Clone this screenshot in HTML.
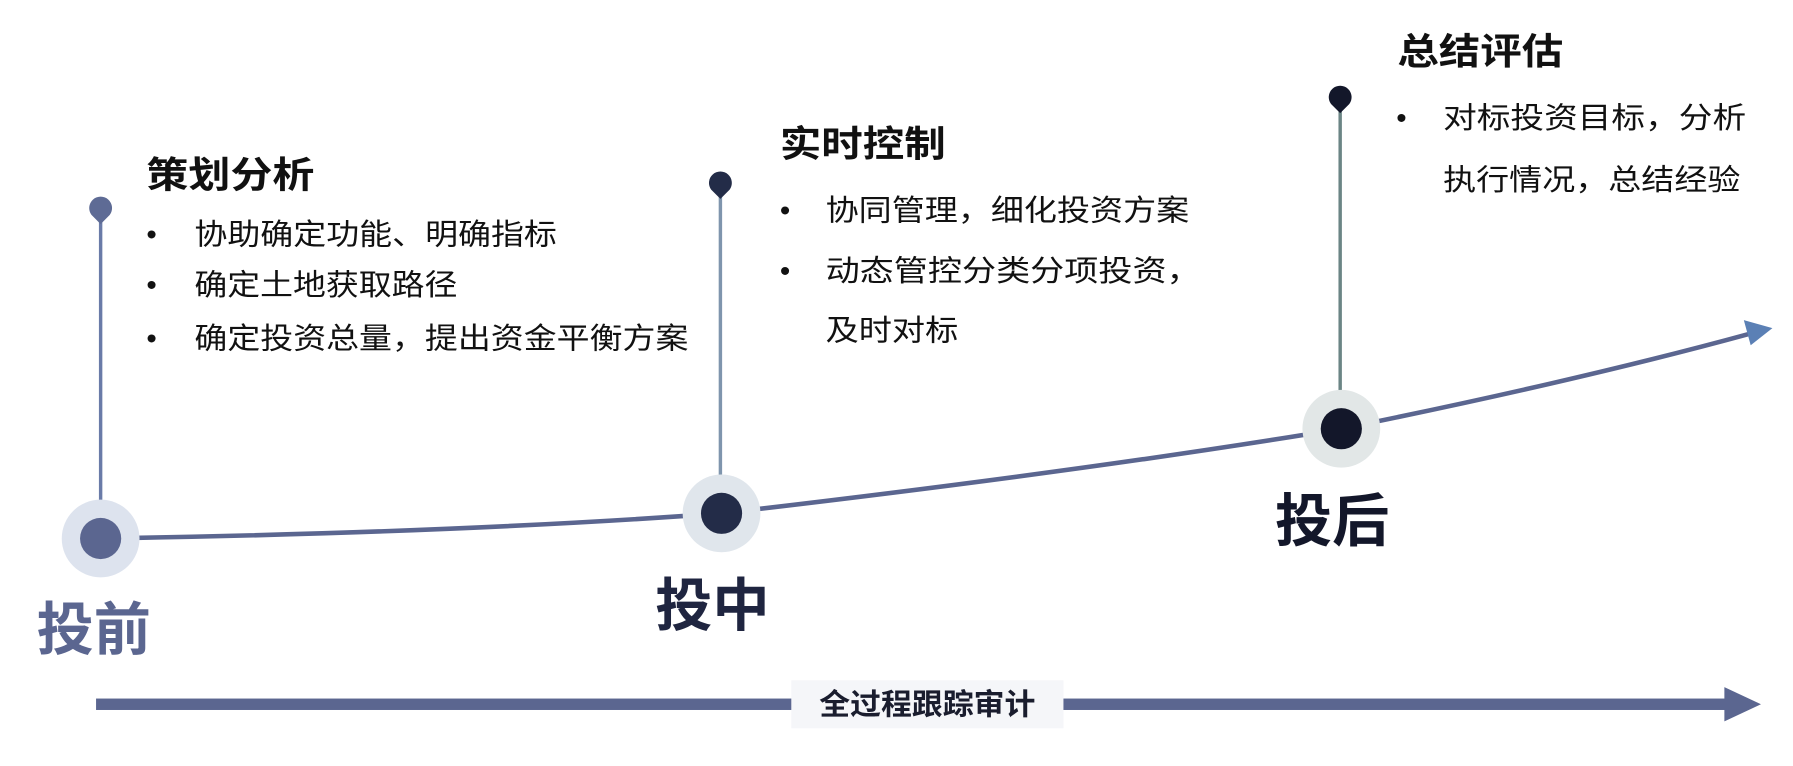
<!DOCTYPE html>
<html><head><meta charset="utf-8"><style>
html,body{margin:0;padding:0;background:#fff;width:1793px;height:766px;overflow:hidden}
svg{display:block}
text{font-family:"Liberation Sans","Noto Sans CJK SC",sans-serif}
.t{font-weight:bold;font-size:32px;fill:#111}
.b{font-size:26px;fill:#111}
</style></head><body>
<svg width="1793" height="766" viewBox="0 0 1568 670" preserveAspectRatio="none">
<path d="M88,471 Q400,466 631,449 Q950,412 1173,375 Q1380,333 1530,292" fill="none" stroke="#5b6690" stroke-width="4"/>
<polygon points="1550,287 1525,280 1531,302" fill="#5b80b5"/>
<line x1="88" y1="190" x2="88" y2="440" stroke="#6a7ba8" stroke-width="3"/>
<line x1="630" y1="168" x2="630" y2="418" stroke="#7f95ad" stroke-width="3"/>
<line x1="1172" y1="93" x2="1172" y2="345" stroke="#6b8585" stroke-width="3"/>
<path d="M88,196 L80,188 A10,10 0 1 1 96,188 Z" fill="#5e6b95"/>
<path d="M630,174 L622,166 A10,10 0 1 1 638,166 Z" fill="#232c48"/>
<path d="M1172,99 L1164,91 A10,10 0 1 1 1180,91 Z" fill="#13172a"/>
<circle cx="88" cy="471" r="34" fill="#dde3ee"/><circle cx="88" cy="471" r="18" fill="#5b6690"/>
<circle cx="631" cy="449" r="34" fill="#e0e6ec"/><circle cx="631" cy="449" r="18" fill="#232c48"/>
<circle cx="1173" cy="375" r="34" fill="#e2e7e7"/><circle cx="1173" cy="375" r="18" fill="#13172a"/>
<text x="32" y="568" font-size="50" font-weight="bold" fill="#5b6690">投前</text>
<text x="573" y="547" font-size="50" font-weight="bold" fill="#1f2540">投中</text>
<text x="1115" y="473" font-size="50" font-weight="bold" fill="#13172a">投后</text>
<text class="t" x="128" y="164" textLength="147" lengthAdjust="spacingAndGlyphs">策划分析</text>
<text class="t" x="682" y="137" textLength="145" lengthAdjust="spacingAndGlyphs">实时控制</text>
<text class="t" x="1222" y="56" textLength="145" lengthAdjust="spacingAndGlyphs">总结评估</text>
<text class="b" x="128" y="214">•</text><text class="b" x="170" y="214" textLength="317" lengthAdjust="spacingAndGlyphs">协助确定功能、明确指标</text>
<text class="b" x="128" y="258">•</text><text class="b" x="170" y="258" textLength="230" lengthAdjust="spacingAndGlyphs">确定土地获取路径</text>
<text class="b" x="128" y="305">•</text><text class="b" x="170" y="305" textLength="432" lengthAdjust="spacingAndGlyphs">确定投资总量，提出资金平衡方案</text>
<text class="b" x="682" y="193">•</text><text class="b" x="722" y="193" textLength="318" lengthAdjust="spacingAndGlyphs">协同管理，细化投资方案</text>
<text class="b" x="682" y="246">•</text><text class="b" x="722" y="246" textLength="328" lengthAdjust="spacingAndGlyphs">动态管控分类分项投资，</text>
<text class="b" x="722" y="298" textLength="116" lengthAdjust="spacingAndGlyphs">及时对标</text>
<text class="b" x="1221" y="112">•</text><text class="b" x="1262" y="112" textLength="265" lengthAdjust="spacingAndGlyphs">对标投资目标，分析</text>
<text class="b" x="1262" y="166" textLength="260" lengthAdjust="spacingAndGlyphs">执行情况，总结经验</text>
<rect x="84" y="611" width="1430" height="10" fill="#5b6690"/>
<polygon points="1540,616 1508,601 1508,631" fill="#5b6690"/>
<rect x="692" y="595" width="238" height="42" fill="#f5f6f9"/>
<text x="811" y="625" font-size="26" font-weight="bold" fill="#1a1d2e" text-anchor="middle" textLength="189" lengthAdjust="spacingAndGlyphs">全过程跟踪审计</text>
</svg>
</body></html>
